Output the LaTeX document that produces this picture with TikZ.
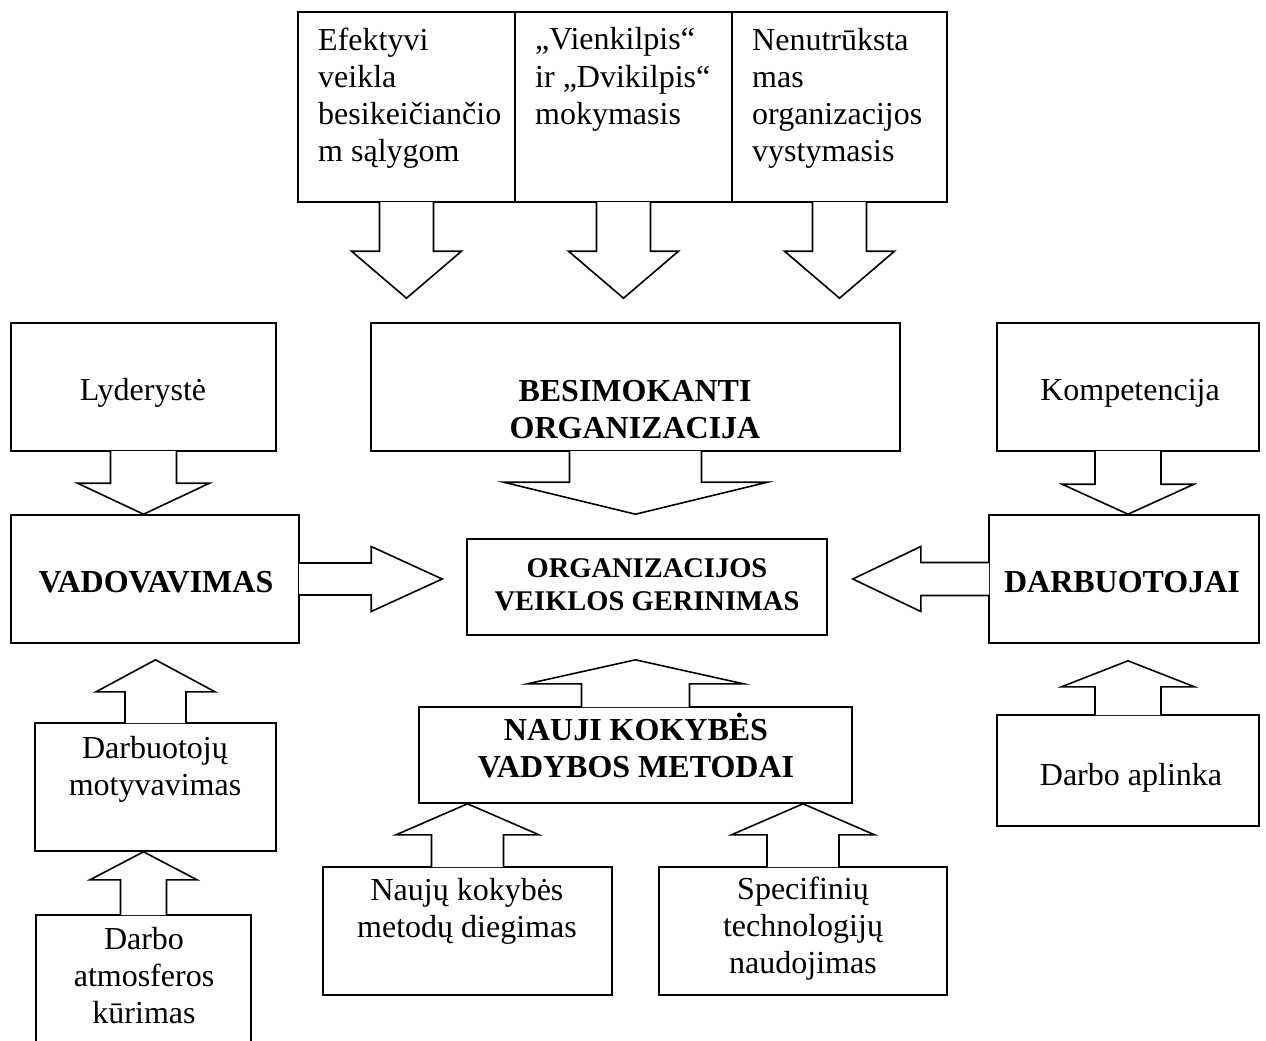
\documentclass[tikz,border=0pt]{standalone}
\usepackage{fontspec}
\setmainfont{Liberation Serif}
\usetikzlibrary{calc,fit}
\newcommand{\blockarrow}[5]{%
  \coordinate (at) at (#2);
  \coordinate (ab) at ($(#1)!-0.8pt!(at)$);
  \coordinate (ah) at ($(at)!#5!(ab)$);
  \filldraw[barrow] ($(ab)!#3!90:(at)$) -- ($(ah)!#3!90:(at)$) -- ($(ah)!#4!90:(at)$) -- (at)
    -- ($(ah)!#4!-90:(at)$) -- ($(ah)!#3!-90:(at)$) -- ($(ab)!#3!-90:(at)$);}
\tikzset{
  cbox/.style={draw, line width=1.6pt, inner sep=0pt},
  barrow/.style={fill=white, draw=black, line width=1.6pt, line join=miter},
  txt/.style={inner sep=0pt, align=center, font=\fontsize{32}{37}\selectfont},
  btxt/.style={txt, font=\fontsize{32}{37}\selectfont\bfseries}}

\begin{document}
\begin{tikzpicture}[x=1pt, y=-1pt]
\useasboundingbox (0,0) rectangle (1266,1041);
\clip (0,0) rectangle (1266,1041);
\node[cbox, fit={(298,12)(515,202)}] (efekt) {};
\node[cbox, fit={(515,12)(732,202)}] (vienk) {};
\node[cbox, fit={(732,12)(947,202)}] (nenut) {};
\node[cbox, fit={(11,323)(276,451)}] (lyder) {};
\node[cbox, fit={(371,323)(900,451)}] (besim) {};
\node[cbox, fit={(997,323)(1259,451)}] (kompet) {};
\node[cbox, fit={(11,515)(299,643)}] (vadov) {};
\node[cbox, fit={(467,539)(827,635)}] (organ) {};
\node[cbox, fit={(989,515)(1259,643)}] (darbuot) {};
\node[cbox, fit={(419,707)(852,803)}] (naujimet) {};
\node[cbox, fit={(35,723)(276,851)}] (motyv) {};
\node[cbox, fit={(997,715)(1259,826)}] (aplink) {};
\node[cbox, fit={(323,867)(612,995)}] (diegim) {};
\node[cbox, fit={(659,867)(947,995)}] (specif) {};
\node[cbox, fit={(36,915)(251,1060)}] (atmosf) {};

\node[txt, align=left, anchor=base west] (efektT) at (318,161) {Efektyvi\\veikla\\besikeičiančio\\m sąlygom};
\node[txt, align=left, anchor=base west] (vienkT) at (535,124) {„Vienkilpis“\\ir „Dvikilpis“\\mokymasis};
\node[txt, align=left, anchor=base west] (nenutT) at (752,161) {Nenutrūksta\\mas\\organizacijos\\vystymasis};
\node[txt, anchor=base] (lyderT) at (143,400) {Lyderystė};
\node[btxt, anchor=base] (besimT) at (635,438) {BESIMOKANTI\\ORGANIZACIJA};
\node[txt, anchor=base] (kompetT) at (1130,400) {Kompetencija};
\node[btxt, anchor=base] (vadovT) at (156,592) {VADOVAVIMAS};
\node[btxt, anchor=base, font=\fontsize{28.5}{33}\selectfont\bfseries] (organT) at (647,610) {ORGANIZACIJOS\\VEIKLOS GERINIMAS};
\node[btxt, anchor=base] (darbuotT) at (1122,592) {DARBUOTOJAI};
\node[btxt, anchor=base] (naujimetT) at (636,777) {NAUJI KOKYBĖS\\VADYBOS METODAI};
\node[txt, anchor=base] (motyvT) at (155,795) {Darbuotojų\\motyvavimas};
\node[txt, anchor=base] (aplinkT) at (1131,785) {Darbo aplinka};
\node[txt, anchor=base] (diegimT) at (467,937) {Naujų kokybės\\metodų diegimas};
\node[txt, anchor=base] (specifT) at (803,973) {Specifinių\\technologijų\\naudojimas};
\node[txt, anchor=base] (atmosfT) at (144,1023) {Darbo\\atmosferos\\kūrimas};

\blockarrow{efekt.south}{$(efekt.south |- besim.north)+(0,-24)$}{27pt}{55pt}{47pt}
\blockarrow{vienk.south}{$(vienk.south |- besim.north)+(0,-24)$}{27pt}{55pt}{47pt}
\blockarrow{nenut.south}{$(nenut.south |- besim.north)+(0,-24)$}{27pt}{55pt}{47pt}
\blockarrow{lyder.south}{lyder.south |- vadov.north}{33pt}{66pt}{31pt}
\blockarrow{besim.south}{$(besim.south |- organ.north)+(0,-24)$}{66pt}{132pt}{32pt}
\blockarrow{kompet.south}{kompet.south |- darbuot.north}{33pt}{66pt}{30pt}
\blockarrow{vadov.east}{$(organ.west |- vadov.east)+(-24,0)$}{16pt}{32.5pt}{71pt}
\blockarrow{darbuot.west}{$(organ.east |- darbuot.west)+(25,0)$}{16.5pt}{32.5pt}{68pt}
\blockarrow{naujimet.north}{$(naujimet.north |- organ.south)+(0,24)$}{54pt}{108pt}{24pt}
\blockarrow{diegim.north}{diegim.north |- naujimet.south}{36pt}{71.5pt}{31pt}
\blockarrow{specif.north}{specif.north |- naujimet.south}{36pt}{71.5pt}{31pt}
\blockarrow{motyv.north}{$(motyv.north |- vadov.south)+(0,16)$}{30.5pt}{59.5pt}{32pt}
\blockarrow{atmosf.north}{atmosf.north |- motyv.south}{23pt}{53.5pt}{28pt}
\blockarrow{aplink.north}{$(aplink.north |- darbuot.south)+(0,17)$}{33pt}{66.5pt}{26pt}
\end{tikzpicture}
\end{document}
